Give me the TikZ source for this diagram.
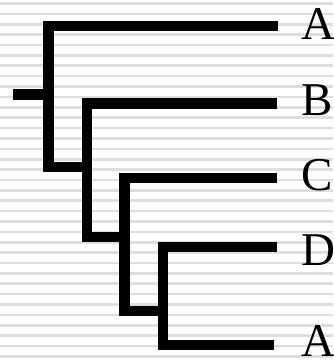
\documentclass[tikz,border=0pt]{standalone}
\usepackage{fontspec}
\setmainfont{Liberation Serif}
\begin{document}
\begin{tikzpicture}[x=1pt,y=-1pt,
  branch/.style={line width=10.5pt,line join=miter,line cap=butt,black},
  stripe/.style={fill=black!13},
  leaf/.style={anchor=base west,inner sep=0pt,font=\fontsize{47}{50}\selectfont}]
\useasboundingbox (0,0) rectangle (333,361);
\fill[white] (0,0) rectangle (333,361);
\foreach \k in {0,...,34}{
  \fill[stripe] (0,{3.5+10.38*\k-1.3}) rectangle (333,{3.5+10.38*\k+1.3});
}
% coordinates
\coordinate (root) at (13,94.5);
\coordinate (rj) at (48.5,94.5);
\coordinate (c1t) at (48.5,26);
\coordinate (c1b) at (48.5,167);
\coordinate (j2) at (87,167);
\coordinate (c2t) at (87,103.5);
\coordinate (c2b) at (87,237);
\coordinate (j3) at (124.7,237);
\coordinate (c3t) at (124.7,178);
\coordinate (c3b) at (124.7,311);
\coordinate (j4) at (163,311);
\coordinate (c4t) at (163,247);
\coordinate (c4b) at (163,345);
\coordinate (eA) at (278,26);
\coordinate (eB) at (276.7,103.5);
\coordinate (eC) at (276.7,178);
\coordinate (eD) at (276.7,247);
\coordinate (eA2) at (274,345);
% tree
\draw[branch] (root) -- (rj);
\draw[branch] (eA) -- (c1t) -- (c1b) -- (j2);
\draw[branch] (eB) -- (c2t) -- (c2b) -- (j3);
\draw[branch] (eC) -- (c3t) -- (c3b) -- (j4);
\draw[branch] (eD) -- (c4t) -- (c4b) -- (eA2);
% labels
\node[leaf] (tA) at (301,39.3) {A};
\node[leaf] (tB) at (301.5,115) {B};
\node[leaf] (tC) at (301.5,190.5) {C};
\node[leaf] (tD) at (301.5,265) {D};
\node[leaf] (tA2) at (301,356.5) {A};
\end{tikzpicture}
\end{document}
